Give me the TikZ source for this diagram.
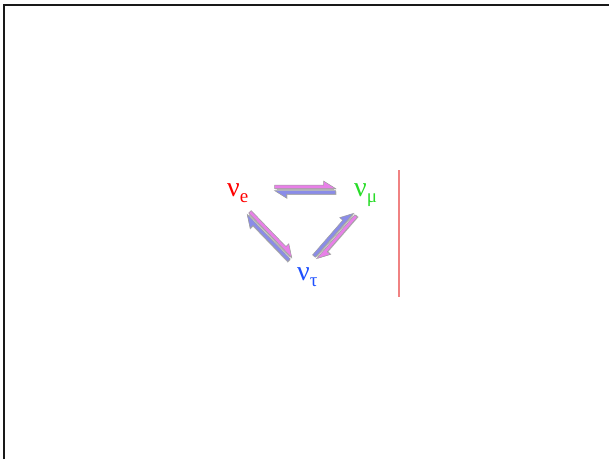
\documentclass[tikz,border=0pt]{standalone}
\usepackage{fontspec}
\setmainfont{Liberation Serif}
\definecolor{harpink}{RGB}{232,128,232}
\definecolor{harblue}{RGB}{138,140,232}
\definecolor{nured}{RGB}{255,0,0}
\definecolor{nugreen}{RGB}{40,220,40}
\definecolor{nublue}{RGB}{30,80,255}
\definecolor{sepred}{RGB}{240,130,130}
\tikzset{
  harp/.style={draw=gray!75, line width=0.5pt, line join=miter},
  harpshadow/.style={fill=gray!55, draw=none},
  nulabel/.style={inner sep=0pt, anchor=base west},
}
\newcommand\nusym[3]{{\fontsize{28}{28}\selectfont ν\raisebox{-6pt}{\fontsize{19}{19}\selectfont #1}}}
\newcommand\harppair[6]{%
\begin{scope}[shift={(#1,#2)}, rotate=#3]
  \pgfmathsetmacro\hl{#4/2}
  \coordinate (pA) at (-\hl,0);
  \coordinate (pB) at (\hl,0);
  % shadows
  \begin{scope}[shift={(0.8,-0.8)}]
    \fill[harpshadow] (-\hl,1) -- (\hl,1) -- (\hl-12,8.5) -- (\hl-12,4.5) -- (-\hl,4.5) -- cycle;
    \fill[harpshadow] (\hl,-1) -- (-\hl,-1) -- (-\hl+12,-8.5) -- (-\hl+12,-4.5) -- (\hl,-4.5) -- cycle;
  \end{scope}
  \draw[gray!60, line width=0.8pt] ($(pA)+(2,0)$) -- ($(pB)-(2,0)$);
  \filldraw[harp, fill=#5] (-\hl,1) -- (\hl,1) -- (\hl-12,8.5) -- (\hl-12,4.5) -- (-\hl,4.5) -- cycle;
  \filldraw[harp, fill=#6] (\hl,-1) -- (-\hl,-1) -- (-\hl+12,-8.5) -- (-\hl+12,-4.5) -- (\hl,-4.5) -- cycle;
\end{scope}}
\usetikzlibrary{calc}
\begin{document}
\begin{tikzpicture}[x=1pt,y=1pt]
  \useasboundingbox (0,0) rectangle (609,459);
  \fill[white] (0,0) rectangle (609,459);
  % frame
  \draw[black!90, line width=2pt] (4,0) -- (4,454) -- (609,454);
  % labels
  \node[nulabel, text=nured]   (ne) at (227,263) {\nusym{e}{}{}};
  \node[nulabel, text=nugreen] (nm) at (354,263) {\nusym{μ}{}{}};
  \node[nulabel, text=nublue]  (nt) at (297,179) {\nusym{τ}{}{}};
  % harpoon pairs
  \harppair{305}{269.5}{0}{61}{harpink}{harblue}
  \harppair{269.5}{223}{-46}{62}{harpink}{harblue}
  \harppair{335}{223}{49}{58}{harblue}{harpink}
  % separator
  \draw[sepred, line width=1.3pt] (399,289) -- (399,162);
\end{tikzpicture}
\end{document}
